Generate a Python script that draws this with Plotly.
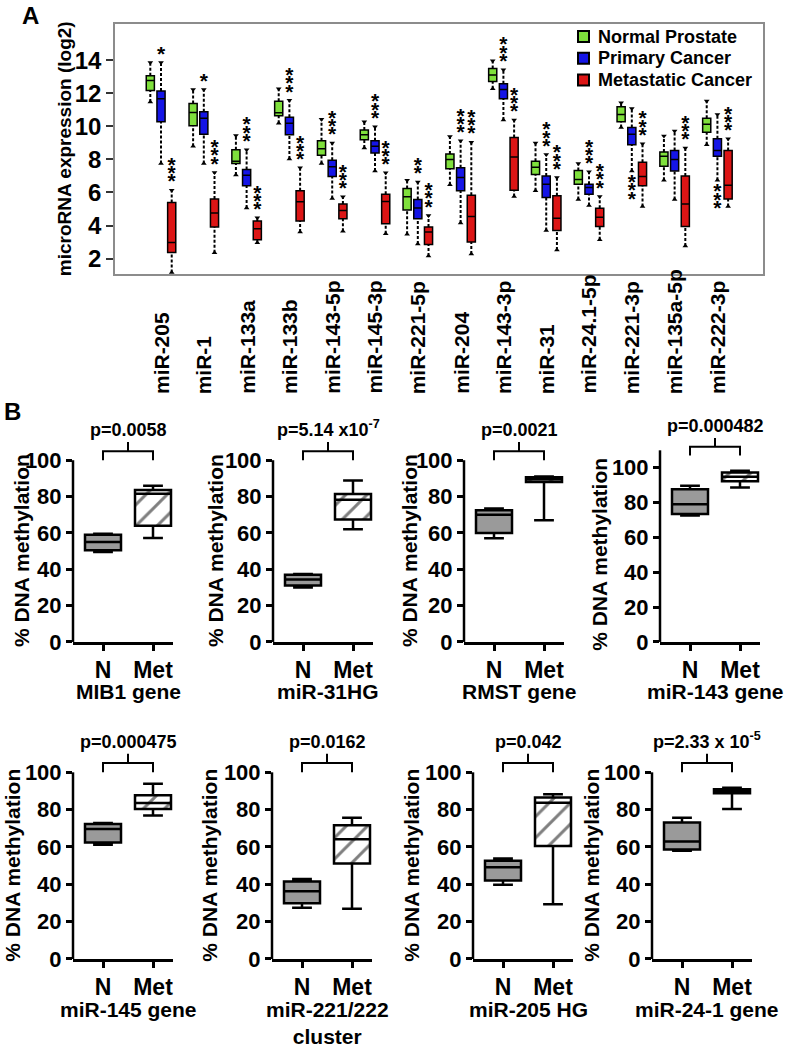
import plotly.graph_objects as go

# ---------------- Panel A data ----------------
mirnas = ["miR-205", "miR-1", "miR-133a", "miR-133b", "miR-143-5p", "miR-145-3p",
          "miR-221-5p", "miR-204", "miR-143-3p", "miR-31", "miR-24.1-5p",
          "miR-221-3p", "miR-135a-5p", "miR-222-3p"]
a_ticks = [2, 4, 6, 8, 10, 12, 14]

normal_lo = [11.47, 8.79, 7.06, 10.18, 7.75, 8.69, 3.47, 6.46, 12.27, 6.10, 5.57, 9.92, 6.74, 8.88]
normal_q1 = [12.17, 10.04, 7.75, 10.64, 8.25, 9.18, 4.94, 7.43, 12.70, 7.09, 6.50, 10.28, 7.59, 9.64]
normal_med = [12.77, 10.84, 7.89, 10.82, 8.64, 9.49, 5.74, 7.99, 13.10, 7.53, 6.79, 10.72, 8.19, 10.12]
normal_q3 = [13.06, 11.37, 8.59, 11.51, 9.12, 9.78, 6.24, 8.33, 13.50, 7.89, 7.33, 11.18, 8.45, 10.48]
normal_hi = [13.86, 12.23, 9.44, 12.27, 10.42, 10.28, 6.74, 9.38, 13.96, 8.99, 7.75, 11.43, 9.42, 11.53]

primary_lo = [7.75, 7.75, 5.06, 8.03, 5.64, 7.30, 2.88, 4.15, 10.38, 3.71, 5.21, 7.30, 5.57, 6.74]
primary_q1 = [10.28, 9.52, 6.40, 9.49, 6.96, 8.39, 4.41, 6.10, 11.67, 5.70, 5.90, 8.88, 7.30, 8.19]
primary_med = [11.67, 10.48, 7.04, 10.18, 7.55, 8.79, 5.06, 6.90, 12.23, 6.50, 6.30, 9.52, 7.99, 8.53]
primary_q3 = [12.13, 10.88, 7.39, 10.54, 7.95, 9.12, 5.57, 7.49, 12.57, 7.00, 6.50, 9.92, 8.53, 9.24]
primary_hi = [13.86, 12.23, 8.59, 11.57, 8.99, 9.98, 6.64, 9.12, 13.42, 8.29, 7.25, 11.07, 9.72, 10.72]
primary_sig = ["*", "*", "***", "***", "***", "***", "**", "***", "***", "***", "***", "***", "", "***"]
primary_side = ["above"] * 11 + ["below", "above", "below"]

metastatic_lo = [1.16, 2.36, 2.96, 3.61, 3.65, 3.51, 2.16, 2.28, 5.76, 2.52, 3.15, 5.15, 2.76, 5.15]
metastatic_q1 = [2.38, 3.91, 3.15, 4.27, 4.41, 4.11, 2.86, 3.01, 6.14, 3.71, 3.95, 6.40, 3.95, 5.60]
metastatic_med = [2.97, 4.76, 3.81, 5.44, 4.91, 5.46, 3.61, 4.55, 8.15, 4.45, 4.51, 6.96, 5.30, 6.44]
metastatic_q3 = [5.40, 5.60, 4.27, 6.10, 5.30, 5.90, 3.91, 5.84, 9.33, 5.80, 5.04, 7.83, 7.00, 8.53]
metastatic_hi = [6.14, 7.21, 4.47, 7.49, 5.74, 7.19, 4.61, 9.04, 10.38, 6.90, 5.76, 8.95, 8.69, 9.24]
metastatic_sig = ["***"] * 14
metastatic_side = ["above"] * 14

# ---------------- Panel B data ----------------
genes = ["MIB1 gene", "miR-31HG", "RMST gene", "miR-143 gene",
         "miR-145 gene", "miR-221/222<br>cluster", "miR-205 HG", "miR-24-1 gene"]
pvals = ["p=0.0058", "p=5.14 x10<sup>-7</sup>", "p=0.0021", "p=0.000482",
         "p=0.000475", "p=0.0162", "p=0.042", "p=2.33 x 10<sup>-5</sup>"]
b_ticks = [0, 20, 40, 60, 80, 100]
b_cats = ["N", "Met"]

n_lo = [49.5, 30.0, 57.0, 72.6, 61.2, 27.5, 39.8, 58.0]
n_q1 = [50.5, 31.0, 60.0, 73.5, 62.4, 29.8, 42.1, 58.6]
n_med = [55.0, 34.3, 70.0, 79.0, 69.6, 36.3, 49.1, 63.0]
n_q3 = [59.0, 37.0, 72.5, 87.6, 72.3, 41.5, 52.6, 73.1]
n_hi = [59.6, 37.4, 73.5, 89.7, 72.8, 42.8, 53.8, 75.6]

met_lo = [57.2, 62.0, 67.0, 88.7, 76.9, 26.9, 29.3, 80.4]
met_q1 = [64.0, 67.4, 88.0, 92.3, 80.4, 51.1, 60.5, 88.8]
met_med = [81.5, 78.2, 89.6, 94.8, 83.6, 64.1, 83.7, 90.0]
met_q3 = [83.6, 81.4, 90.7, 97.3, 87.7, 71.6, 86.5, 90.9]
met_hi = [86.0, 88.8, 91.0, 98.3, 93.9, 75.6, 88.2, 91.8]

# ---------------- layout helpers ----------------
FONT = "Liberation Sans, Arial, Helvetica, sans-serif"
W, H = 785, 1050


def px_x(p):
    return p / W


def px_y(p):
    return (H - p) / H


def bold(size):
    return dict(family=FONT, size=size, color="black", weight="bold")


fig = go.Figure()
annotations = []
shapes = []
layout_axes = {}

# ---------------- Panel A ----------------
series = [
    ("Normal Prostate", "#7fe03c", -0.25, normal_lo, normal_q1, normal_med, normal_q3, normal_hi, None, None),
    ("Primary Cancer", "#1515e6", 0.0, primary_lo, primary_q1, primary_med, primary_q3, primary_hi, primary_sig, primary_side),
    ("Metastatic Cancer", "#dc1515", 0.25, metastatic_lo, metastatic_q1, metastatic_med, metastatic_q3, metastatic_hi, metastatic_sig, metastatic_side),
]
legend_rows = [37, 59, 81]
for (name, color, off, lo, q1, med, q3, hi, sig, side), ly in zip(series, legend_rows):
    xs = [i + off for i in range(len(mirnas))]
    wx, wy = [], []
    for x, a, b, c, d in zip(xs, lo, q1, q3, hi):
        wx += [x, x, None, x, x, None]
        wy += [a, b, None, c, d, None]
    fig.add_trace(go.Scatter(x=wx, y=wy, mode="lines", xaxis="x", yaxis="y",
                             line=dict(color="black", width=2, dash="3px,2px"),
                             showlegend=False, hoverinfo="skip"))
    fig.add_trace(go.Box(x=xs, q1=q1, median=med, q3=q3, lowerfence=q1, upperfence=q3,
                         width=0.19, whiskerwidth=0, fillcolor=color,
                         line=dict(color="black", width=1.5), xaxis="x", yaxis="y",
                         showlegend=False, hoverinfo="skip"))
    fig.add_trace(go.Scatter(x=xs, y=hi, mode="markers", xaxis="x", yaxis="y", cliponaxis=False,
                             marker=dict(symbol="triangle-down", size=5, color="black"),
                             showlegend=False, hoverinfo="skip"))
    fig.add_trace(go.Scatter(x=xs, y=lo, mode="markers", xaxis="x", yaxis="y", cliponaxis=False,
                             marker=dict(symbol="triangle-up", size=5, color="black"),
                             showlegend=False, hoverinfo="skip"))
    if sig:
        sx, sy, st = [], [], []
        for x, a, d, s, sd in zip(xs, lo, hi, sig, side):
            for k in range(len(s)):
                sx.append(x)
                sy.append(d + 0.42 + 0.5 * k if sd == "above" else a - 0.78 - 0.5 * k)
                st.append("*")
        fig.add_trace(go.Scatter(x=sx, y=sy, text=st, mode="text", xaxis="x", yaxis="y",
                                 textposition="middle center", cliponaxis=False,
                                 textfont=bold(21), showlegend=False, hoverinfo="skip"))
    # legend entry (key square + label)
    shapes.append(dict(type="rect", xref="paper", yref="paper",
                       x0=px_x(578), x1=px_x(589), y0=px_y(ly + 5.5), y1=px_y(ly - 5.5),
                       fillcolor=color, line=dict(color="black", width=2)))
    annotations.append(dict(x=px_x(596), y=px_y(ly), xref="paper", yref="paper", text=name,
                            showarrow=False, xanchor="left", yanchor="middle", font=bold(18)))

layout_axes["xaxis"] = dict(domain=[px_x(115), px_x(763)], range=[-1.075, 14.065], anchor="y",
                            showline=True, mirror=True, linecolor="#8c8c8c", linewidth=1.5,
                            showticklabels=False, ticks="", showgrid=False, zeroline=False)
layout_axes["yaxis"] = dict(domain=[px_y(277), px_y(24)], range=[1.1, 16.2], anchor="x",
                            tickvals=a_ticks, ticks="outside", ticklen=7, tickwidth=1.5,
                            tickcolor="#333333", showline=True, mirror=True, linecolor="#8c8c8c",
                            linewidth=1.5, showgrid=False, zeroline=False, tickfont=bold(24))

for i, name in enumerate(mirnas):
    annotations.append(dict(x=i, xref="x", y=px_y(401), yref="paper", text=name,
                            textangle=-90, xanchor="center", yanchor="bottom", showarrow=False,
                            font=bold(21)))
annotations.append(dict(x=px_x(64), y=px_y(151), xref="paper", yref="paper",
                        text="microRNA expression (log2)", textangle=-90, showarrow=False,
                        xanchor="center", yanchor="middle", font=bold(19)))
annotations.append(dict(x=px_x(20), y=px_y(0), xref="paper", yref="paper", text="A",
                        showarrow=False, xanchor="left", yanchor="top", font=bold(24)))
annotations.append(dict(x=px_x(2), y=px_y(401), xref="paper", yref="paper", text="B",
                        showarrow=False, xanchor="left", yanchor="top", font=bold(24)))

# ---------------- Panel B ----------------
n_x = [103, 303, 494, 690, 103, 302, 503, 682]          # pixel position of the "N" box
title_x = [21, 215, 409, 600, 13, 210, 412, 592]         # pixel centre of y titles
axis_top = [100, 100, 100, 110, 100, 100, 100, 100]
bracket_base = [100, 100, 100, 107, 100, 100, 100, 100]
UNIT = 50  # px per category step

for j in range(8):
    k = j + 2
    xa, ya = f"x{k}", f"y{k}"
    row1 = j < 4
    zero_px = 650 if row1 else 971
    scale = (1.764 if j == 3 else 1.84) if row1 else 1.89
    rtop = bracket_base[j] + 11
    top_px = zero_px - rtop * scale

    layout_axes[f"xaxis{k}"] = dict(
        domain=[px_x(n_x[j] - 0.6 * UNIT), px_x(n_x[j] + 1.4 * UNIT)], range=[-0.6, 1.4],
        anchor=ya, tickvals=[0, 1], ticktext=b_cats, ticks="outside", ticklen=6, tickwidth=2.5,
        tickcolor="black", showline=True, linecolor="black", linewidth=2.5,
        showgrid=False, zeroline=False, tickfont=bold(23))
    layout_axes[f"yaxis{k}"] = dict(
        domain=[px_y(zero_px), px_y(top_px)], range=[0, rtop], anchor=xa,
        tickvals=b_ticks, ticks="outside", ticklen=6, tickwidth=2.5, tickcolor="black",
        showline=False, showgrid=False, zeroline=False, tickfont=bold(22))
    shapes.append(dict(type="line", xref=f"{xa} domain", yref=f"{ya} domain",
                       x0=0, x1=0, y0=0, y1=axis_top[j] / rtop,
                       line=dict(color="black", width=2.5)))

    # hatched fill of the Met box
    fig.add_trace(go.Bar(x=[1], base=[met_q1[j]], y=[met_q3[j] - met_q1[j]], width=0.72,
                         xaxis=xa, yaxis=ya, showlegend=False, hoverinfo="skip",
                         marker=dict(color="white", line=dict(width=0),
                                     pattern=dict(shape="/", fgcolor="black", bgcolor="white",
                                                  size=15, solidity=0.2))))
    fig.add_trace(go.Box(x=[0], q1=[n_q1[j]], median=[n_med[j]], q3=[n_q3[j]],
                         lowerfence=[n_lo[j]], upperfence=[n_hi[j]], width=0.72, whiskerwidth=0.55,
                         fillcolor="#9a9a9a", line=dict(color="black", width=2.5),
                         xaxis=xa, yaxis=ya, showlegend=False, hoverinfo="skip"))
    fig.add_trace(go.Box(x=[1], q1=[met_q1[j]], median=[met_med[j]], q3=[met_q3[j]],
                         lowerfence=[met_lo[j]], upperfence=[met_hi[j]], width=0.72, whiskerwidth=0.55,
                         fillcolor="rgba(0,0,0,0)", line=dict(color="black", width=2.5),
                         xaxis=xa, yaxis=ya, showlegend=False, hoverinfo="skip"))
    b = bracket_base[j]
    fig.add_trace(go.Scatter(x=[0, 0, 1, 1, None, 0.5, 0.5], y=[b, b + 5, b + 5, b, None, b + 5, b + 10],
                             mode="lines", line=dict(color="black", width=2), xaxis=xa, yaxis=ya,
                             showlegend=False, hoverinfo="skip"))
    annotations.append(dict(x=0.5, xref=xa, y=b + 10, yref=ya, text=pvals[j], showarrow=False,
                            xanchor="center", yanchor="bottom", font=bold(18)))
    annotations.append(dict(x=0.5, xref=xa, y=px_y(zero_px + 37), yref="paper", text=genes[j],
                            showarrow=False, xanchor="center", yanchor="top", font=bold(21)))
    annotations.append(dict(x=px_x(title_x[j]), xref="paper", y=px_y(zero_px - 50 * scale),
                            yref="paper", text="% DNA methylation", textangle=-90, showarrow=False,
                            xanchor="center", yanchor="middle", font=bold(21)))

fig.update_layout(
    width=W, height=H, margin=dict(l=0, r=0, t=0, b=0),
    paper_bgcolor="white", plot_bgcolor="white",
    font=dict(family=FONT, color="black"),
    showlegend=False,
    annotations=annotations, shapes=shapes,
    **layout_axes,
)

fig.write_html("out.html", config={"displayModeBar": False},
               post_script="document.body.style.margin='0px';")
